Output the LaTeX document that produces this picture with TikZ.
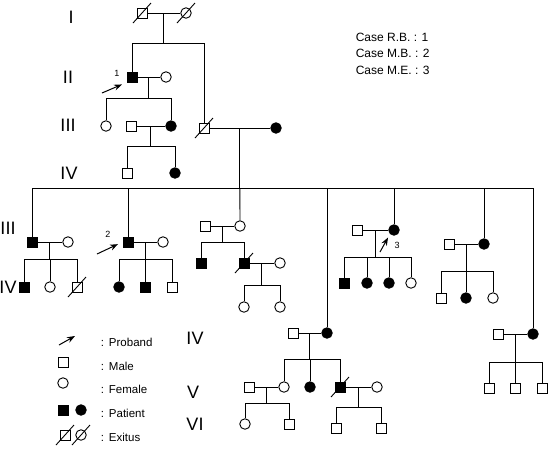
\documentclass[tikz,border=0pt]{standalone}
\usepackage{fontspec}
\setmainfont{Liberation Sans}
\usetikzlibrary{arrows.meta}
\newcommand{\exitus}[1]{\draw (#1.center) ++(-9,10) -- ++(18,-20);}
\begin{document}
\begin{tikzpicture}[x=1pt, y=-1pt, line width=0.9pt,
  male/.style={draw, rectangle, minimum size=10pt, inner sep=0pt},
  female/.style={draw, circle, minimum size=10.5pt, inner sep=0pt},
  pmale/.style={male, fill=black},
  pfemale/.style={female, fill=black},
  genlabel/.style={font=\fontsize{18}{18}\selectfont},
  txt/.style={anchor=west, font=\fontsize{11.5}{13}\selectfont},
  casetxt/.style={anchor=west, font=\fontsize{12}{14}\selectfont},
  casenr/.style={font=\fontsize{9}{10}\selectfont},
  proband/.style={-{Stealth[length=8pt,width=6pt]}, line width=1pt, shorten >=5pt}]
\useasboundingbox (0,0) rectangle (548,448);
% generation labels
\draw (71,17) node[genlabel] (g1) {I};
\draw (68,77) node[genlabel] (g2) {II};
\draw (68,125) node[genlabel] (g3) {III};
\draw (69,173) node[genlabel] (g4) {IV};
\draw (8,228) node[genlabel] (g3b) {III};
\draw (8,287) node[genlabel] (g4b) {IV};
\draw (195,338) node[genlabel] (g4c) {IV};
\draw (193,392) node[genlabel] (g5) {V};
\draw (195,424) node[genlabel] (g6) {VI};
% cases
\draw (352,37) node[casetxt] (case1) {Case R.B. : 1};
\draw (352,53) node[casetxt] (case2) {Case M.B. : 2};
\draw (352,70) node[casetxt] (case3) {Case M.E. : 3};
% I
\draw (142,13) node[male] (i1) {}; \exitus{i1}
\draw (186,13) node[female] (i2) {}; \exitus{i2}
\draw (i1) -- coordinate (mi) (i2);
\draw (mi) -- ++(0,30) coordinate (si);
% II
\draw (132,77) node[pmale] (ii1) {}; \draw (si) -| (ii1);
\draw (166,77) node[female] (ii2) {}; \draw (ii1) -- coordinate (mii) (ii2);
\draw (mii) -- ++(0,21) coordinate (sii);
\coordinate (a1) at (102,93); \draw[proband] (a1) -- (ii1.south west);
\draw (117,73) node[casenr] (n1) {1};
% III, left
\draw (106,126) node[female] (iii1) {}; \draw (sii) -| (iii1);
\draw (171,126) node[pfemale] (iii3) {}; \draw (sii) -| (iii3);
\draw (131,126) node[male] (iii2) {}; \draw (iii2) -- coordinate (miii) (iii3);
\draw (miii) -- ++(0,20) coordinate (siii);
\draw (127,173) node[male] (iv1) {}; \draw (siii) -| (iv1);
\draw (175,173) node[pfemale] (iv2) {}; \draw (siii) -| (iv2);
% III, right
\draw (204,128) node[male] (iii4) {}; \exitus{iii4} \draw (si) -| (iii4);
\draw (276,128) node[pfemale] (iii5) {}; \draw (iii4) -- coordinate (mbig) (iii5);
\draw (mbig) -- ++(0,60) coordinate (sbig);
\coordinate (bl) at (32,188); \coordinate (br) at (533,188);
\draw (bl) -- (br);
% children 1
\draw (32,242) node[pmale] (c1) {}; \draw (bl) -- (c1);
\draw (68,242) node[female] (c1w) {}; \draw (c1) -- coordinate (mc1) (c1w);
\draw (mc1) -- ++(0,17) coordinate (sc1);
\draw (24,287) node[pmale] (c1a) {}; \draw (sc1) -| (c1a);
\draw (50,287) node[female] (c1b) {}; \draw (sc1) -| (c1b);
\draw (77,287) node[male] (c1c) {}; \exitus{c1c} \draw (sc1) -| (c1c);
% children 2
\draw (128,242) node[pmale] (c2) {}; \draw (sbig) -| (c2);
\draw (163,242) node[female] (c2w) {}; \draw (c2) -- coordinate (mc2) (c2w);
\draw (mc2) -- ++(0,17) coordinate (sc2);
\coordinate (a2) at (97,254); \draw[proband] (a2) -- (c2.west);
\draw (108,234) node[casenr] (n2) {2};
\draw (119,287) node[pfemale] (c2a) {}; \draw (sc2) -| (c2a);
\draw (145,287) node[pmale] (c2b) {}; \draw (sc2) -| (c2b);
\draw (172,287) node[male] (c2c) {}; \draw (sc2) -| (c2c);
% children 3
\draw (240,226) node[female] (c3) {}; \draw (sbig) -- (c3);
\draw (205,226) node[male] (c3h) {}; \draw (c3h) -- coordinate (mc3) (c3);
\draw (mc3) -- ++(0,16) coordinate (sc3);
\draw (201,263) node[pmale] (c3a) {}; \draw (sc3) -| (c3a);
\draw (244,263) node[pmale] (c3b) {}; \exitus{c3b} \draw (sc3) -| (c3b);
\draw (280,263) node[female] (c3w) {}; \draw (c3b) -- coordinate (mc3b) (c3w);
\draw (mc3b) -- ++(0,22) coordinate (sc3b);
\draw (244,307) node[female] (c3c) {}; \draw (sc3b) -| (c3c);
\draw (280,307) node[female] (c3d) {}; \draw (sc3b) -| (c3d);
% children 4
\draw (327,333) node[pfemale] (c4) {}; \draw (sbig) -| (c4);
\draw (293,333) node[male] (c4h) {}; \draw (c4h) -- coordinate (mc4) (c4);
\draw (mc4) -- ++(0,26) coordinate (sc4);
\draw (284,387) node[female] (c4a) {}; \draw (sc4) -| (c4a);
\draw (310,387) node[pfemale] (c4b) {}; \draw (sc4) -| (c4b);
\draw (340,387) node[pmale] (c4c) {}; \exitus{c4c} \draw (sc4) -| (c4c);
\draw (249,387) node[male] (c4ah) {}; \draw (c4ah) -- coordinate (mc4a) (c4a);
\draw (mc4a) -- ++(0,16) coordinate (sc4a);
\draw (245,424) node[female] (c4d) {}; \draw (sc4a) -| (c4d);
\draw (289,424) node[male] (c4e) {}; \draw (sc4a) -| (c4e);
\draw (377,387) node[female] (c4cw) {}; \draw (c4c) -- coordinate (mc4c) (c4cw);
\draw (mc4c) -- ++(0,20) coordinate (sc4c);
\draw (336,428) node[male] (c4f) {}; \draw (sc4c) -| (c4f);
\draw (381,428) node[male] (c4g) {}; \draw (sc4c) -| (c4g);
% children 5
\draw (394,230) node[pfemale] (c5) {}; \draw (sbig) -| (c5);
\draw (357,230) node[male] (c5h) {}; \draw (c5h) -- coordinate (mc5) (c5);
\draw (mc5) -- ++(0,27) coordinate (sc5);
\coordinate (a3) at (380,252); \draw[proband, shorten >=4pt] (a3) -- (c5.south west);
\draw (397,245) node[casenr] (n3) {3};
\draw (344,283) node[pmale] (c5a) {}; \draw (sc5) -| (c5a);
\draw (367,283) node[pfemale] (c5b) {}; \draw (sc5) -| (c5b);
\draw (389,283) node[pfemale] (c5c) {}; \draw (sc5) -| (c5c);
\draw (411,283) node[female] (c5d) {}; \draw (sc5) -| (c5d);
% children 6
\draw (484,244) node[pfemale] (c6) {}; \draw (sbig) -| (c6);
\draw (449,244) node[male] (c6h) {}; \draw (c6h) -- coordinate (mc6) (c6);
\draw (mc6) -- ++(0,27) coordinate (sc6);
\draw (441,298) node[male] (c6a) {}; \draw (sc6) -| (c6a);
\draw (466,298) node[pfemale] (c6b) {}; \draw (sc6) -| (c6b);
\draw (493,298) node[female] (c6c) {}; \draw (sc6) -| (c6c);
% children 7
\draw (533,334) node[pfemale] (c7) {}; \draw (br) -- (c7);
\draw (498,334) node[male] (c7h) {}; \draw (c7h) -- coordinate (mc7) (c7);
\draw (mc7) -- ++(0,28) coordinate (sc7);
\draw (489,388) node[male] (c7a) {}; \draw (sc7) -| (c7a);
\draw (515,388) node[male] (c7b) {}; \draw (sc7) -| (c7b);
\draw (542,388) node[male] (c7c) {}; \draw (sc7) -| (c7c);
% legend
\coordinate (la) at (59,345); \coordinate (lb) at (75,336);
\draw[proband, shorten >=0pt] (la) -- (lb);
\draw (97,342) node[txt] (l1) {:\hspace{5pt}Proband};
\draw (63,362) node[male] (lm) {};
\draw (97,366) node[txt] (l2) {:\hspace{5pt}Male};
\draw (63,383) node[female] (lf) {};
\draw (97,389) node[txt] (l3) {:\hspace{5pt}Female};
\draw (63,410) node[pmale] (lpm) {};
\draw (81,410) node[pfemale] (lpf) {};
\draw (97,413) node[txt] (l4) {:\hspace{5pt}Patient};
\draw (65,435) node[male] (ldm) {}; \exitus{ldm}
\draw (81,435) node[female] (ldf) {}; \exitus{ldf}
\draw (97,437) node[txt] (l5) {:\hspace{5pt}Exitus};
\end{tikzpicture}
\end{document}
